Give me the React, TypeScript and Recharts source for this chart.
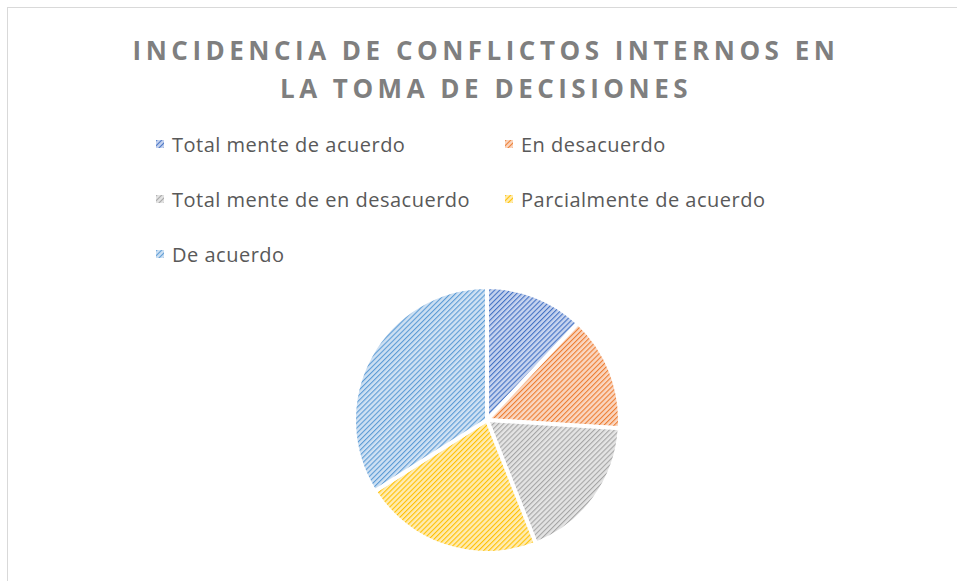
import { PieChart, Pie, Cell, Legend } from 'recharts';

const categories = [
  'Total mente de acuerdo',
  'En desacuerdo',
  'Total mente de en desacuerdo',
  'Parcialmente de acuerdo',
  'De acuerdo',
];
const values = [12, 14, 18, 22, 34];
const titleLines = ['INCIDENCIA DE CONFLICTOS INTERNOS EN', 'LA TOMA DE DECISIONES'];

const strokeColors = ['#4472C4', '#ED7D31', '#A5A5A5', '#FFC000', '#5B9BD5'];
const bgColors = ['#C7D4EF', '#FAD7C2', '#E4E4E4', '#FFECB3', '#CFE1F3'];

const data = categories.map((name, i) => ({ name, value: values[i] }));

const legendPos = [
  { left: 156, top: 144 },
  { left: 505, top: 144 },
  { left: 156, top: 199 },
  { left: 505, top: 199 },
  { left: 156, top: 254 },
];

function renderLegend() {
  return (
    <div style={{ position: 'relative', width: 957, height: 300 }}>
      {categories.map((name, i) => (
        <div
          key={name}
          style={{
            position: 'absolute',
            left: legendPos[i].left,
            top: legendPos[i].top - 13,
            height: 26,
            display: 'flex',
            alignItems: 'center',
            whiteSpace: 'nowrap',
          }}
        >
          <svg width={8} height={8} style={{ marginRight: 8 }}>
            <rect width={8} height={8} fill={`url(#hatch${i})`} />
          </svg>
          <span
            style={{ fontFamily: 'Open Sans', fontSize: 20, letterSpacing: 0.5, color: '#595959' }}
          >
            {name}
          </span>
        </div>
      ))}
    </div>
  );
}

export default function App() {
  return (
    <div
      style={{
        position: 'absolute',
        left: 0,
        top: 0,
        width: 957,
        height: 581,
        overflow: 'hidden',
        background: '#fff',
      }}
    >
      <svg width={0} height={0} style={{ position: 'absolute' }}>
        <defs>
          {strokeColors.map((c, i) => (
            <pattern
              key={c}
              id={`hatch${i}`}
              patternUnits="userSpaceOnUse"
              width={3.6}
              height={3.6}
              patternTransform="rotate(45)"
            >
              <rect width={3.6} height={3.6} fill={bgColors[i]} />
              <line x1={0} y1={0} x2={0} y2={3.6} stroke={c} strokeWidth={2.2} />
            </pattern>
          ))}
        </defs>
      </svg>
      <div
        style={{
          position: 'absolute',
          left: 7,
          top: 7,
          width: 1200,
          height: 1200,
          border: '1px solid #D9D9D9',
        }}
      />
      <svg width={957} height={120} style={{ position: 'absolute', left: 0, top: 0 }}>
        {titleLines.map((t, i) => (
          <text
            key={t}
            x={486}
            y={60 + i * 38}
            textAnchor="middle"
            fontFamily="Open Sans"
            fontWeight={700}
            fontSize={26}
            letterSpacing={4.5}
            fill="#7F7F7F"
          >
            {t}
          </text>
        ))}
      </svg>
      <PieChart
        width={957}
        height={581}
        margin={{ top: 0, right: 0, bottom: 0, left: 0 }}
        style={{ position: 'absolute', left: 0, top: 0 }}
      >
        <Pie
          data={data}
          dataKey="value"
          nameKey="name"
          cx={487}
          cy={420}
          outerRadius={133}
          startAngle={90}
          endAngle={-270}
          stroke="#fff"
          strokeWidth={4}
          isAnimationActive={false}
        >
          {data.map((d, i) => (
            <Cell key={d.name} fill={`url(#hatch${i})`} />
          ))}
        </Pie>
        <Legend
          content={renderLegend}
          wrapperStyle={{ position: 'absolute', left: 0, top: 0, width: 957, height: 300 }}
        />
      </PieChart>
    </div>
  );
}
